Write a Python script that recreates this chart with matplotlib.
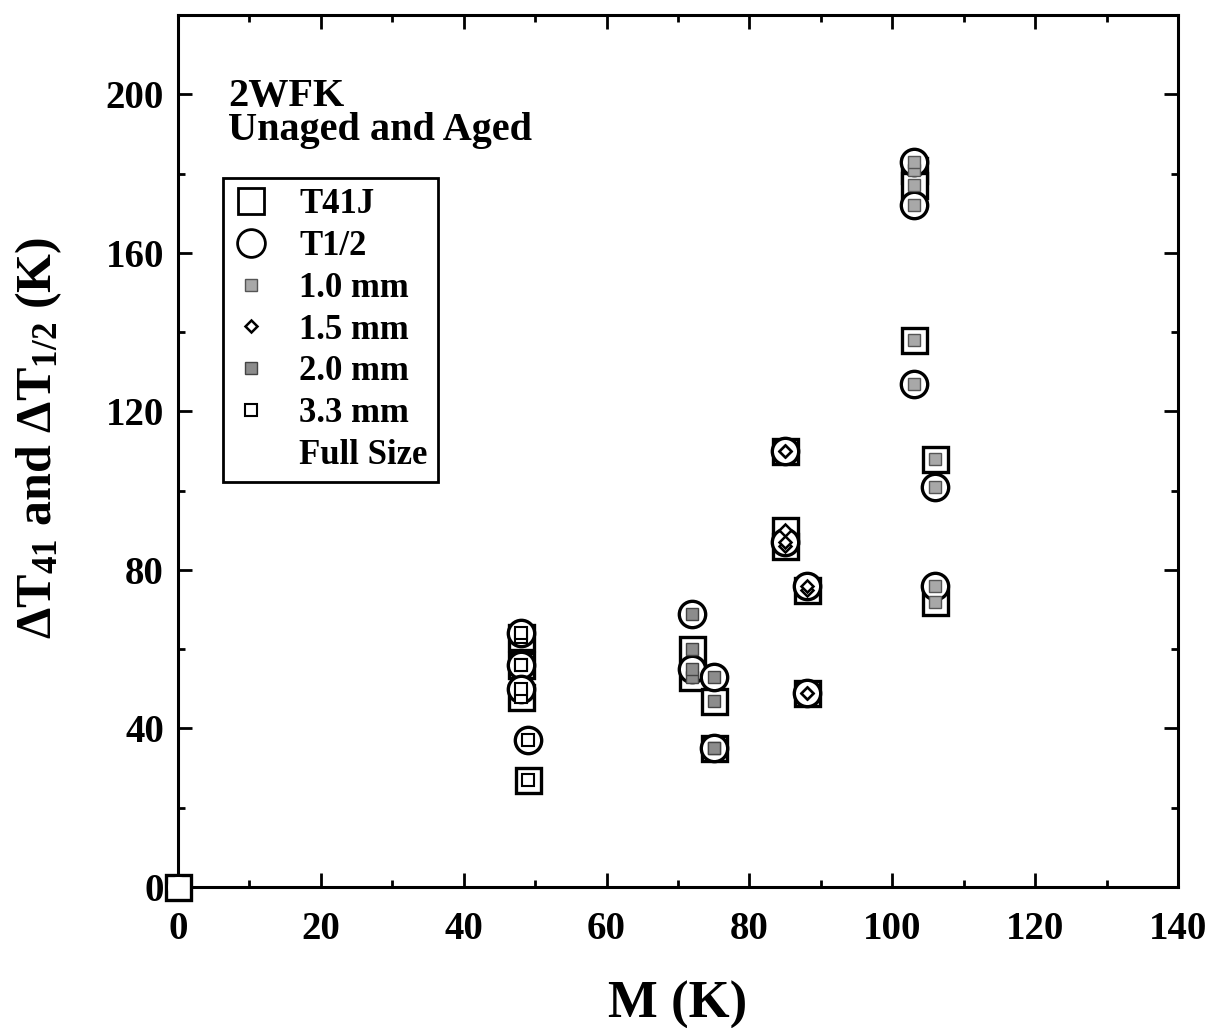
import matplotlib
matplotlib.use("Agg")
import matplotlib.pyplot as plt
from matplotlib.lines import Line2D
from matplotlib.font_manager import FontProperties
from matplotlib.ticker import MultipleLocator

plt.rcParams['font.family'] = ['Liberation Serif', 'DejaVu Serif']
plt.rcParams['font.weight'] = 'bold'
plt.rcParams['mathtext.fontset'] = 'custom'
plt.rcParams['mathtext.rm'] = 'Liberation Serif:bold'
plt.rcParams['mathtext.it'] = 'Liberation Serif:bold'
plt.rcParams['mathtext.bf'] = 'Liberation Serif:bold'

# ---- data (M in K, Delta T in K) ----
# 3.3 mm specimens
m33_t41 = [48, 48, 48, 49]
dt33_t41 = [63, 56, 48, 27]
m33_t12 = [48, 48, 48, 49]
dt33_t12 = [64, 56, 50, 37]
# 2.0 mm specimens
m20_t41 = [72, 72, 75, 75]
dt20_t41 = [60, 53, 47, 35]
m20_t12 = [72, 72, 75, 75]
dt20_t12 = [69, 55, 53, 35]
# 1.5 mm specimens
m15_t41 = [85, 85, 85, 88, 88]
dt15_t41 = [110, 90, 86, 75, 49]
m15_t12 = [85, 85, 88, 88]
dt15_t12 = [110, 87, 76, 49]
# 1.0 mm specimens
m10_t41 = [103, 103, 103, 106, 106]
dt10_t41 = [181, 177, 138, 108, 72]
m10_t12 = [103, 103, 103, 106, 106]
dt10_t12 = [183, 172, 127, 101, 76]
# full size
mfs_t41 = [0]
dtfs_t41 = [0]
mfs_t12 = [0]
dtfs_t12 = [0]

legend_labels = ["T41J", "T1/2", "1.0 mm", "1.5 mm", "2.0 mm", "3.3 mm", "Full Size"]
xticks = [0, 20, 40, 60, 80, 100, 120, 140]
yticks = [0, 40, 80, 120, 160, 200]

fig = plt.figure(figsize=(12.15, 10.28), dpi=100)
ax = fig.add_axes([178/1215, 1 - 887/1028, 1000/1215, 872/1028])

outer_sq = dict(ls='none', marker='s', ms=18, mfc='white', mec='black', mew=2.4, clip_on=False)
outer_ci = dict(ls='none', marker='o', ms=19, mfc='white', mec='black', mew=2.4, clip_on=False)

inner = {
    '1.0': dict(ls='none', marker='s', ms=8, mfc='#a8a8a8', mec='#555555', mew=1.0),
    '1.5': dict(ls='none', marker='D', ms=6, mfc='white', mec='black', mew=1.8),
    '2.0': dict(ls='none', marker='s', ms=8, mfc='#8c8c8c', mec='#444444', mew=1.0),
    '3.3': dict(ls='none', marker='s', ms=8, mfc='white', mec='black', mew=1.5),
}

groups = [
    ('3.3', m33_t41, dt33_t41, m33_t12, dt33_t12),
    ('2.0', m20_t41, dt20_t41, m20_t12, dt20_t12),
    ('1.5', m15_t41, dt15_t41, m15_t12, dt15_t12),
    ('1.0', m10_t41, dt10_t41, m10_t12, dt10_t12),
]

for key, mx41, dy41, mx12, dy12 in groups:
    ax.plot(mx41, dy41, zorder=3, **outer_sq)
for key, mx41, dy41, mx12, dy12 in groups:
    ax.plot(mx12, dy12, zorder=4, **outer_ci)
for key, mx41, dy41, mx12, dy12 in groups:
    ax.plot(mx41, dy41, zorder=5, **inner[key])
    ax.plot(mx12, dy12, zorder=5, **inner[key])

# full size at origin
ax.plot(mfs_t41, dtfs_t41, zorder=6, **outer_sq)
ax.plot(mfs_t12, dtfs_t12, zorder=7, ls='none', marker='o', ms=15, mfc='white', mec='white', mew=0, clip_on=False)

ax.set_xlim(0, 140)
ax.set_ylim(0, 220)
ax.set_xticks(xticks)
ax.set_yticks(yticks)
ax.xaxis.set_minor_locator(MultipleLocator(10))
ax.yaxis.set_minor_locator(MultipleLocator(20))
ax.tick_params(which='both', direction='in', top=True, right=True, width=2, labelsize=28)
ax.tick_params(axis='x', which='major', length=10, pad=17)
ax.tick_params(axis='y', which='major', length=10, pad=10)
ax.tick_params(which='minor', length=5)
for lab in ax.get_xticklabels() + ax.get_yticklabels():
    lab.set_fontweight('bold')
for sp in ax.spines.values():
    sp.set_linewidth(2.2)

ax.set_xlabel("M (K)", fontsize=38, fontweight='bold')
ax.xaxis.set_label_coords(0.5, -0.108)
ax.set_ylabel("ΔT$_{41}$ and ΔT$_{1/2}$ (K)", fontsize=36, fontweight='bold')
ax.yaxis.set_label_coords(-0.114, 0.515)

ax.text(0.05, 0.928, "2WFK\nUnaged and Aged", transform=ax.transAxes, ha='left', va='top',
        fontsize=29, fontweight='bold', linespacing=0.9)

handles = [
    Line2D([], [], ls='none', marker='s', ms=19, mfc='white', mec='black', mew=2.0),
    Line2D([], [], ls='none', marker='o', ms=20, mfc='white', mec='black', mew=2.0),
    Line2D([], [], **inner['1.0']),
    Line2D([], [], **inner['1.5']),
    Line2D([], [], **inner['2.0']),
    Line2D([], [], **inner['3.3']),
    Line2D([], [], ls='none', marker=None),
]
leg = ax.legend(handles, legend_labels, loc='upper left', bbox_to_anchor=(0.045, 0.813),
                bbox_transform=ax.transAxes, frameon=True, fancybox=False, framealpha=1,
                edgecolor='black', borderpad=0.3, labelspacing=0.25, handlelength=1.0,
                handletextpad=0.9, borderaxespad=0,
                prop=FontProperties(family='Liberation Serif', weight='bold', size=25))
leg.get_frame().set_linewidth(2)
leg.set_zorder(10)

fig.savefig("out.png", dpi=100)
